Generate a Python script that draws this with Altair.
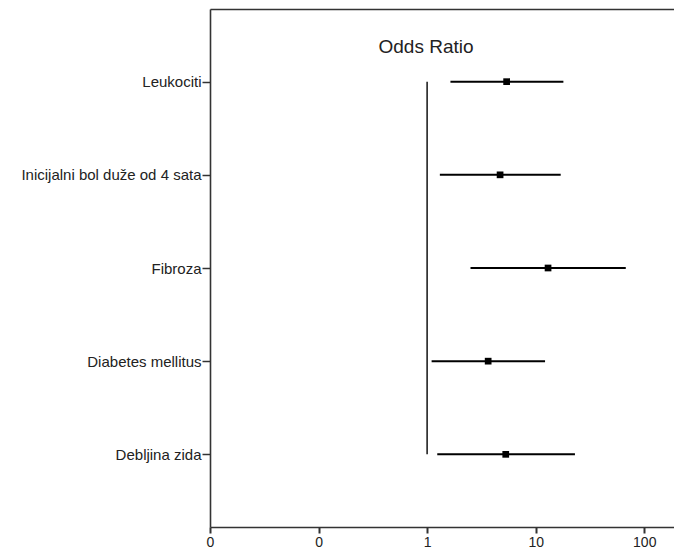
import altair as alt
import pandas as pd

labels = ["Leukociti", "Inicijalni bol duže od 4 sata", "Fibroza", "Diabetes mellitus", "Debljina zida"]
odds = [5.4, 4.7, 13.0, 3.65, 5.3]
ci_low = [1.64, 1.31, 2.51, 1.10, 1.24]
ci_high = [18.0, 17.0, 67.6, 12.2, 23.0]
tick_values = [0.01, 0.1, 1, 10, 100]
ref_value = 1

df = pd.DataFrame({"label": labels, "or": odds, "lo": ci_low, "hi": ci_high})
ref = pd.DataFrame({"x": [ref_value], "top": [labels[0]], "bottom": [labels[-1]]})

xscale = alt.Scale(type="log", domain=[0.01, 188], nice=False)
yscale = alt.Scale(type="point", padding=0.78, domain=labels)
FONT = "Liberation Sans"

bars = alt.Chart(df).mark_rule(color="black", strokeWidth=2).encode(
    x=alt.X("lo:Q", scale=xscale,
            axis=alt.Axis(orient="bottom", values=tick_values, format=".0f", title=None,
                          grid=False, tickSize=6, tickWidth=2, tickColor="#333",
                          domainColor="#333", domainWidth=1.6, labelFontSize=14,
                          labelFont=FONT, labelColor="#222", labelPadding=2,
                          labelFlush=False)),
    x2="hi:Q",
    y=alt.Y("label:N", scale=yscale,
            axis=alt.Axis(title=None, tickSize=8, tickWidth=1.5, tickColor="#333",
                          domainColor="#333", domainWidth=1.6, labelFontSize=15,
                          labelFont=FONT, labelColor="#222", labelPadding=1,
                          labelLimit=300, minExtent=202, maxExtent=202, grid=False)),
)

rule = alt.Chart(ref).mark_rule(color="#222", strokeWidth=1.6).encode(
    x=alt.X("x:Q", scale=xscale,
            axis=alt.Axis(orient="top", labels=False, ticks=False, title=None,
                          domainColor="#333", domainWidth=1.6, grid=False)),
    y=alt.Y("top:N", scale=yscale),
    y2="bottom:N",
)

points = alt.Chart(df).mark_square(color="black", size=45, opacity=1).encode(
    x=alt.X("or:Q", scale=xscale, axis=None),
    y=alt.Y("label:N", scale=yscale),
)

chart = alt.layer(bars, rule, points).resolve_axis(x="independent").properties(
    width=464,
    height=518,
    padding={"left": 0, "top": 1, "right": 0, "bottom": 0},
    title=alt.TitleParams("Odds Ratio", offset=-48, dx=-16, fontSize=19, font=FONT,
                          fontWeight="normal", color="#222", anchor="middle"),
).configure_view(stroke=None)

chart.save("out.html", embed_options={"renderer": "svg", "actions": False})
